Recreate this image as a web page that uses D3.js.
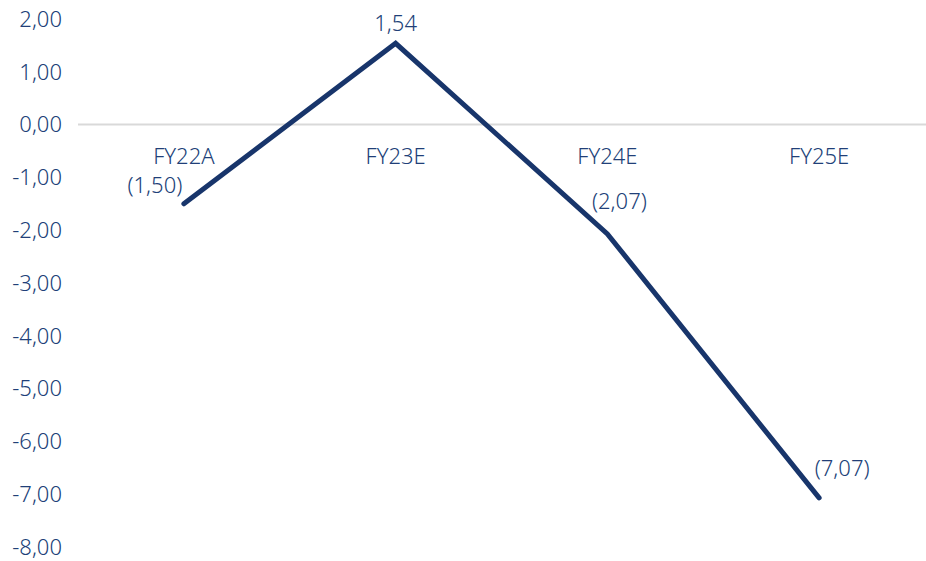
<!DOCTYPE html>
<html>
<head>
<meta charset="utf-8">
<script src="https://cdn.jsdelivr.net/npm/d3@7"></script>
<style>
  body { margin: 0; background: #fff; }
  text { font-family: "Noto Sans", sans-serif; font-weight: 300; fill: #213f78; }
</style>
</head>
<body>
<div id="chart"></div>
<script>
var categories = ["FY22A", "FY23E", "FY24E", "FY25E"];
var values = [-1.50, 1.54, -2.07, -7.07];
var yTicks = [2, 1, 0, -1, -2, -3, -4, -5, -6, -7, -8];

var width = 926, height = 561;
var lineColor = "#18356b";

var svg = d3.select("#chart")
  .append("svg")
  .attr("width", width)
  .attr("height", height);

var x = d3.scaleBand()
  .domain(categories)
  .range([78, 925]);

var y = d3.scaleLinear()
  .domain([-8, 2])
  .range([547, 19]);

var fmt = function(v) { return d3.format(".2f")(Math.abs(v)).replace(".", ","); };

// y axis labels
svg.selectAll(".ytick")
  .data(yTicks)
  .enter()
  .append("text")
  .attr("x", 62)
  .attr("y", function(d) { return y(d); })
  .attr("dy", "0.35em")
  .attr("text-anchor", "end")
  .attr("font-size", "22px")
  .text(function(d) { return (d < 0 ? "-" : "") + fmt(d); });

// zero line
svg.append("line")
  .attr("x1", 78)
  .attr("x2", 926)
  .attr("y1", y(0))
  .attr("y2", y(0))
  .style("stroke", "#d9d9d9")
  .style("stroke-width", 2);

// category labels under the zero line
svg.selectAll(".cat")
  .data(categories)
  .enter()
  .append("text")
  .attr("x", function(d) { return x(d) + x.bandwidth() / 2; })
  .attr("y", y(0) + 32)
  .attr("dy", "0.35em")
  .attr("text-anchor", "middle")
  .attr("font-size", "22px")
  .text(function(d) { return d; });

var line = d3.line()
  .x(function(d, i) { return x(categories[i]) + x.bandwidth() / 2; })
  .y(function(d) { return y(d); });

svg.append("path")
  .datum(values)
  .attr("d", line)
  .style("fill", "none")
  .style("stroke", lineColor)
  .style("stroke-width", 5)
  .style("stroke-linecap", "round")
  .style("stroke-linejoin", "miter");

// data labels: left, above, above-right
var labelOffset = [[-29, -19], [0, -20], [12, -33], [23, -30]];

svg.selectAll(".lbl")
  .data(values)
  .enter()
  .append("text")
  .attr("x", function(d, i) { return x(categories[i]) + x.bandwidth() / 2 + labelOffset[i][0]; })
  .attr("y", function(d, i) { return y(d) + labelOffset[i][1]; })
  .attr("dy", "0.35em")
  .attr("text-anchor", "middle")
  .attr("font-size", "22px")
  .text(function(d) { return d < 0 ? "(" + fmt(d) + ")" : fmt(d); });
</script>
</body>
</html>
